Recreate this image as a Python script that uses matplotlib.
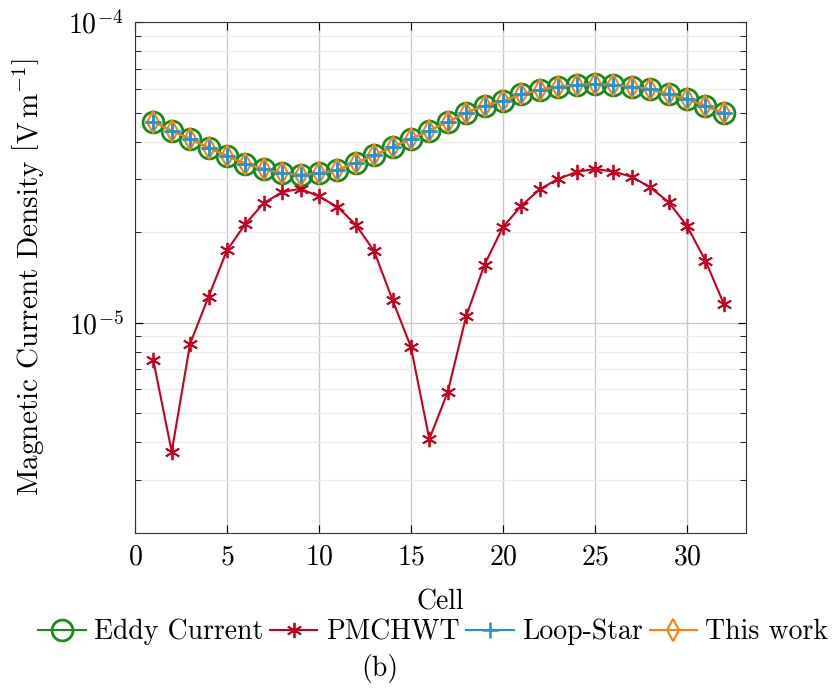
import numpy as np
import matplotlib
matplotlib.use("Agg")
import matplotlib.pyplot as plt

plt.rcParams['font.family'] = 'serif'
plt.rcParams['font.serif'] = ['cmr10', 'DejaVu Serif']
plt.rcParams['mathtext.fontset'] = 'cm'
plt.rcParams['axes.formatter.use_mathtext'] = True
plt.rcParams['font.size'] = 20

cells = np.arange(1, 33)

eddy = np.array([4.66, 4.35, 4.09, 3.82, 3.59, 3.38, 3.24, 3.14, 3.10, 3.14,
                 3.22, 3.40, 3.60, 3.84, 4.09, 4.35, 4.66, 5.00, 5.27, 5.47,
                 5.75, 5.94, 6.10, 6.18, 6.22, 6.18, 6.10, 5.98, 5.75, 5.54,
                 5.27, 4.97]) * 1e-5
loop_star = eddy.copy()
this_work = eddy.copy()
pmchwt = np.array([0.750, 0.372, 0.852, 1.22, 1.74, 2.13, 2.50, 2.72, 2.79, 2.63,
                   2.43, 2.12, 1.73, 1.19, 0.830, 0.410, 0.588, 1.05, 1.56, 2.08,
                   2.45, 2.78, 3.01, 3.17, 3.25, 3.18, 3.06, 2.82, 2.52, 2.10,
                   1.61, 1.156]) * 1e-5

green = '#1a8a1a'
red = '#c8001e'
blue = '#1f93d6'
orange = '#ff7f0e'

fig = plt.figure(figsize=(8.38, 6.91), dpi=100)
ax = fig.add_axes([0.161, 0.229, 0.729, 0.739])

ax.plot(cells, eddy, color=green, lw=1.5, marker='o', ms=15, mfc='none',
        mew=2, label='Eddy Current')
ax.plot(cells, pmchwt, color=red, lw=1.5, marker=(6, 2, 0), ms=11,
        mew=1.3, label='PMCHWT')
ax.plot(cells, loop_star, color=blue, lw=1.5, marker='+', ms=11,
        mew=1.8, label='Loop-Star')
ax.plot(cells, this_work, color=orange, lw=1.5, marker='d', ms=11, mfc='none',
        mew=1.5, label='This work')
# draw blue on top again so the plus sits over the diamond
ax.plot(cells, loop_star, color=blue, lw=0, marker='+', ms=11, mew=1.8)

ax.set_yscale('log')
ax.set_ylim(2e-6, 1e-4)
ax.set_xlim(0, 33.2)
ax.set_xticks([0, 5, 10, 15, 20, 25, 30])
ax.set_yticks([1e-5, 1e-4])

ax.grid(True, which='major', color='#c8c8c8', lw=1)
ax.grid(True, which='minor', axis='y', color='#ececec', lw=1)
ax.set_axisbelow(True)
ax.tick_params(which='both', direction='in', top=True, right=True)
ax.tick_params(which='major', length=6, pad=8)
ax.tick_params(which='minor', length=4)
ax.tick_params(axis='x', which='minor', bottom=False, top=False)
for s in ax.spines.values():
    s.set_color('#333333')

ax.set_xlabel('Cell', labelpad=14)
ax.set_ylabel(r'Magnetic Current Density $\left[\mathrm{V\,m^{-1}}\right]$',
              labelpad=16, fontsize=21)

ax.legend(loc='center', bbox_to_anchor=(0.517, 0.0854),
          bbox_transform=fig.transFigure, ncol=4,
          frameon=False, handlelength=1.7, handletextpad=0.3,
          columnspacing=0.25, borderaxespad=0)

fig.text(0.453, 0.033, '(b)', ha='center', va='center', fontsize=20)

fig.savefig('out.png', dpi=100)
